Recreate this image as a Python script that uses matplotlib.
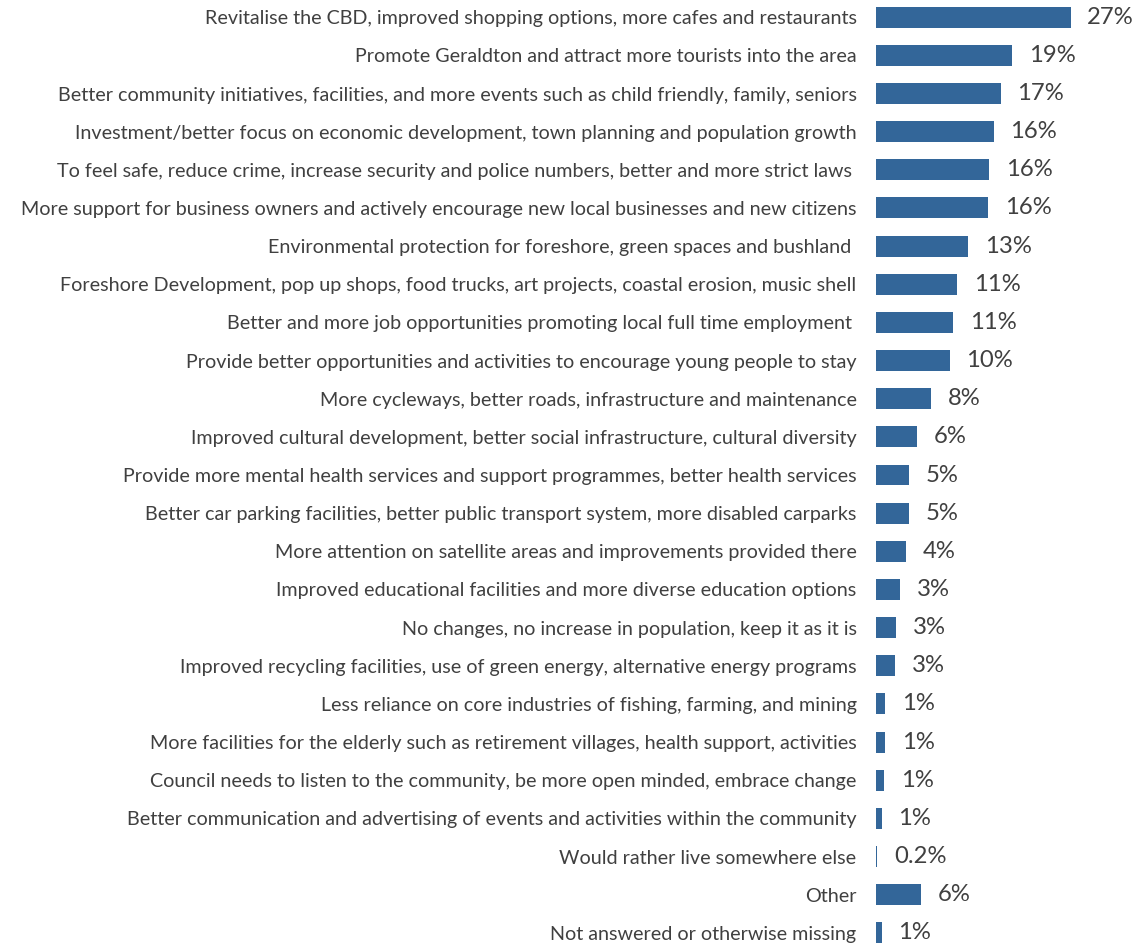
import matplotlib
matplotlib.use("Agg")
import matplotlib.pyplot as plt

categories = [
    "Revitalise the CBD, improved shopping options, more cafes and restaurants",
    "Promote Geraldton and attract more tourists into the area",
    "Better community initiatives, facilities, and more events such as child friendly, family, seniors",
    "Investment/better focus on economic development, town planning and population growth",
    "To feel safe, reduce crime, increase security and police numbers, better and more strict laws ",
    "More support for business owners and actively encourage new local businesses and new citizens",
    "Environmental protection for foreshore, green spaces and bushland ",
    "Foreshore Development, pop up shops, food trucks, art projects, coastal erosion, music shell",
    "Better and more job opportunities promoting local full time employment ",
    "Provide better opportunities and activities to encourage young people to stay",
    "More cycleways, better roads, infrastructure and maintenance",
    "Improved cultural development, better social infrastructure, cultural diversity",
    "Provide more mental health services and support programmes, better health services",
    "Better car parking facilities, better public transport system, more disabled carparks",
    "More attention on satellite areas and improvements provided there",
    "Improved educational facilities and more diverse education options",
    "No changes, no increase in population, keep it as it is",
    "Improved recycling facilities, use of green energy, alternative energy programs",
    "Less reliance on core industries of fishing, farming, and mining",
    "More facilities for the elderly such as retirement villages, health support, activities",
    "Council needs to listen to the community, be more open minded, embrace change",
    "Better communication and advertising of events and activities within the community",
    "Would rather live somewhere else",
    "Other",
    "Not answered or otherwise missing",
]
values = [27.0, 18.9, 17.3, 16.3, 15.7, 15.6, 12.8, 11.3, 10.7, 10.2, 7.6, 5.7,
          4.6, 4.6, 4.1, 3.3, 2.8, 2.7, 1.3, 1.25, 1.1, 0.8, 0.18, 6.2, 0.8]
value_labels = ["27%", "19%", "17%", "16%", "16%", "16%", "13%", "11%", "11%", "10%",
                "8%", "6%", "5%", "5%", "4%", "3%", "3%", "3%", "1%", "1%", "1%", "1%",
                "0.2%", "6%", "1%"]

W, H = 1134, 944
fig = plt.figure(figsize=(W / 100, H / 100), dpi=100)
px_per = 7.21
xmax = 30
left = 876 / W
width = xmax * px_per / W
spacing = 38.15
top_px = 17.2 - 0.5 * spacing
bot_px = 932.8 + 0.5 * spacing
ax = fig.add_axes([left, 1 - bot_px / H, width, (bot_px - top_px) / H])

bar_color = "#336699"
text_color = "#404040"
ypos = list(range(len(categories)))
ax.barh(ypos, values, height=0.55, color=bar_color)
ax.set_xlim(0, xmax)
ax.set_ylim(len(categories) - 0.5, -0.5)
ax.set_yticks(ypos)
ax.set_yticklabels(categories, fontsize=14.2, color=text_color, family="Lato")
ax.tick_params(axis="y", length=0, pad=14)
ax.set_xticks([])
for s in ax.spines.values():
    s.set_visible(False)

for y, v, lab in zip(ypos, values, value_labels):
    ax.annotate(lab, (v, y), xytext=(12, 0), textcoords="offset points",
                va="center", ha="left", fontsize=17.2, color=text_color, family="Lato")

fig.savefig("out.png", dpi=100)
